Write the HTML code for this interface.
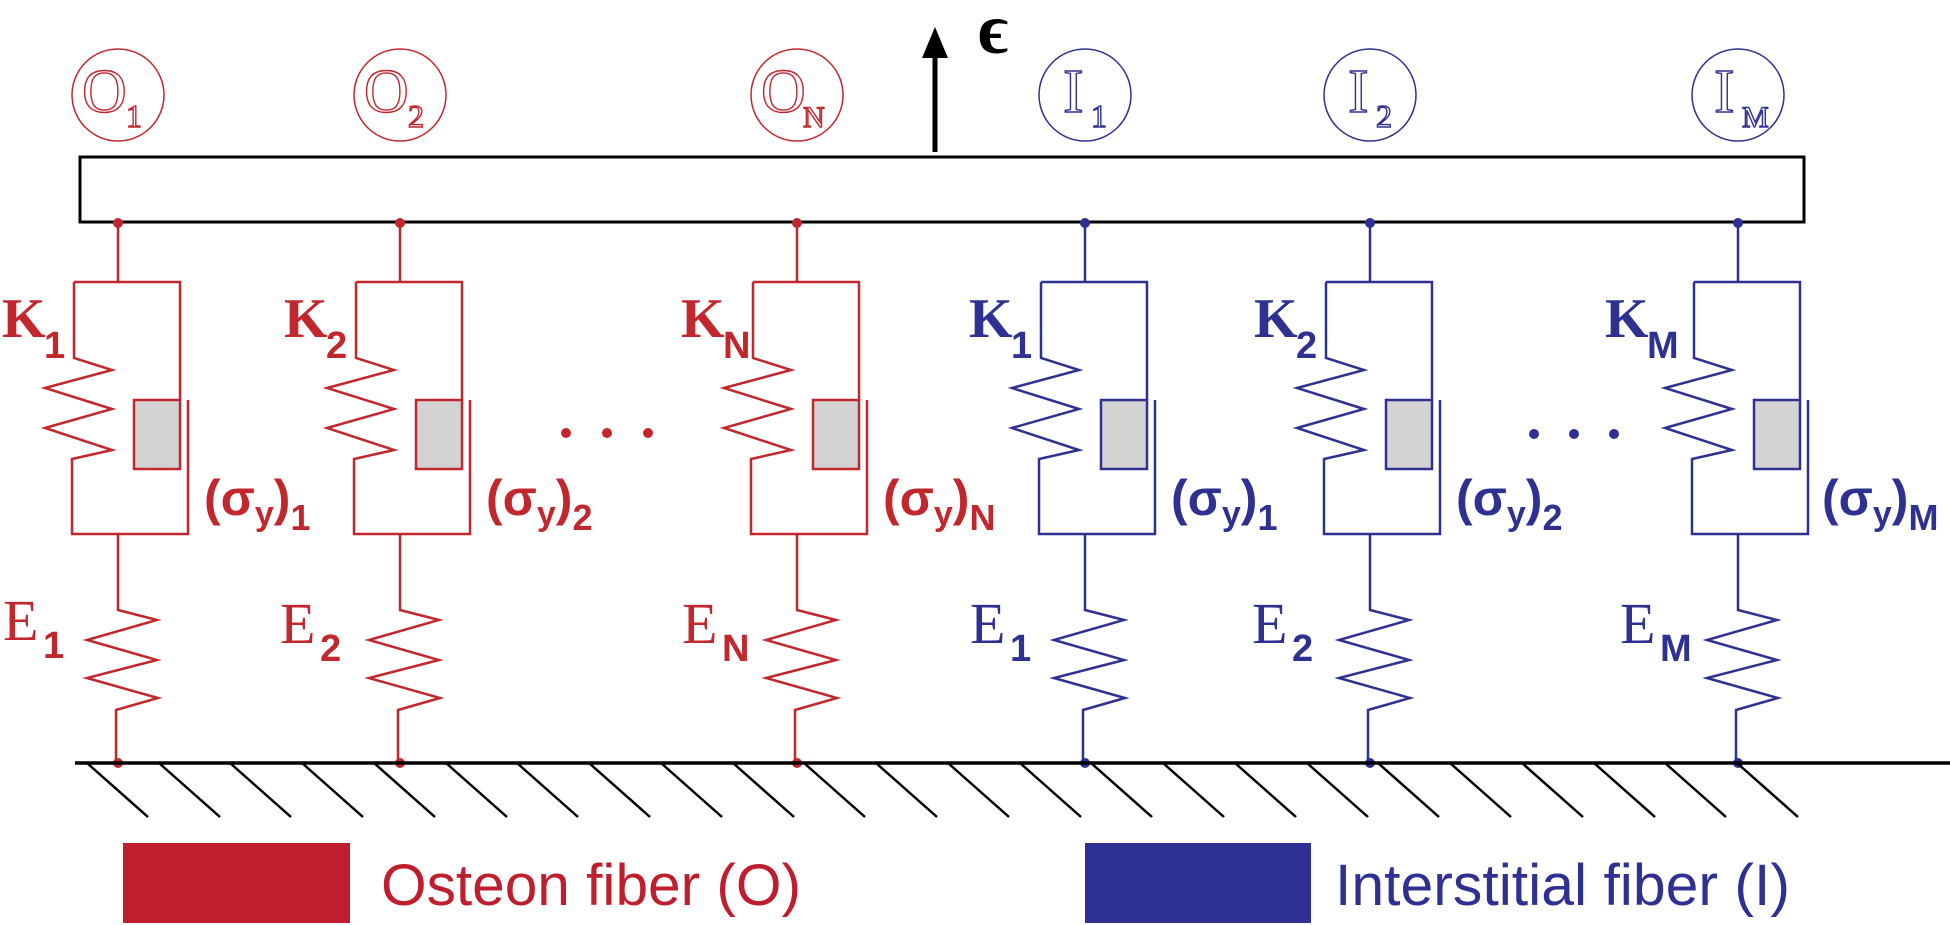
<!DOCTYPE html>
<html><head><meta charset="utf-8"><style>
html,body{margin:0;padding:0;background:#fff;}
svg{display:block;}
.blk{fill:#d3d3d3;}
text{font-family:"Liberation Sans",sans-serif;}
text.sf, .sf text{font-family:"Liberation Serif",serif;}
</style></head><body>
<svg width="1950" height="925" viewBox="0 0 1950 925" xmlns="http://www.w3.org/2000/svg">
<defs>
<g id="unit">
  <line x1="0" y1="223" x2="0" y2="282"/>
  <path d="M-44,282 H62 V400 M-44,282 V358 L-6,370 L-73,388 L-6,409 L-73,428 L-6,450 L-46,459 V534 H70 V400"/>
  <rect x="16" y="400" width="46" height="69" class="blk"/>
  <path d="M0,534 V610 L39,620 L-31,640 L39,660 L-31,678 L40,698 L-2,710 V763"/>
  <circle cx="0" cy="95" r="46" stroke-width="1.5"/>
</g>
</defs>
<!-- bar -->
<rect x="80" y="157" width="1724" height="65" fill="#fff" stroke="#000" stroke-width="3"/>
<!-- arrow -->
<line x1="935" y1="152" x2="935" y2="55" stroke="#000" stroke-width="5"/>
<polygon points="935,27 922,58 948,58" fill="#000"/>
<text class="sf" x="978" y="53" font-size="72" font-weight="bold">ϵ</text>

<!-- units -->
<g stroke="#c1272d" fill="none" stroke-width="2.5">
<use href="#unit" transform="translate(118,0)"/>
<use href="#unit" transform="translate(400,0)"/>
<use href="#unit" transform="translate(797,0)"/>
</g>
<g stroke="#2e3192" fill="none" stroke-width="2.5">
<use href="#unit" transform="translate(1085,0)"/>
<use href="#unit" transform="translate(1370,0)"/>
<use href="#unit" transform="translate(1738,0)"/>
</g>
<g fill="#c1272d">
<circle cx="118" cy="223" r="5"/><circle cx="400" cy="223" r="5"/><circle cx="797" cy="223" r="5"/>
<circle cx="118" cy="763" r="5"/><circle cx="400" cy="763" r="5"/><circle cx="797" cy="763" r="5"/>
<circle cx="566" cy="433" r="5"/><circle cx="607" cy="433" r="5"/><circle cx="648" cy="433" r="5"/>
</g>
<g fill="#2e3192">
<circle cx="1085" cy="223" r="5"/><circle cx="1370" cy="223" r="5"/><circle cx="1738" cy="223" r="5"/>
<circle cx="1085" cy="763" r="5"/><circle cx="1370" cy="763" r="5"/><circle cx="1738" cy="763" r="5"/>
<circle cx="1534" cy="434" r="5"/><circle cx="1574" cy="434" r="5"/><circle cx="1614" cy="434" r="5"/>
</g>

<!-- circle labels -->
<g class="sf" fill="#fff" stroke-width="1.4">
<g stroke="#c1272d">
<text x="82" y="112" font-size="62">O</text><text x="126" y="127" font-size="32">1</text>
<text x="364" y="112" font-size="62">O</text><text x="408" y="127" font-size="32">2</text>
<text x="761" y="112" font-size="62">O</text><text x="803" y="127" font-size="30">N</text>
</g>
<g stroke="#2e3192">
<text x="1063" y="112" font-size="62">I</text><text x="1091" y="127" font-size="32">1</text>
<text x="1348" y="112" font-size="62">I</text><text x="1376" y="127" font-size="32">2</text>
<text x="1714" y="112" font-size="62">I</text><text x="1742" y="127" font-size="30">M</text>
</g>
</g>

<!-- K, sigma, E labels -->
<g fill="#c1272d">
<text class="sf" x="2" y="337" font-size="56" font-weight="bold">K</text><text x="44" y="358" font-size="38" font-weight="bold">1</text>
<text class="sf" x="284" y="337" font-size="56" font-weight="bold">K</text><text x="326" y="358" font-size="38" font-weight="bold">2</text>
<text class="sf" x="681" y="337" font-size="56" font-weight="bold">K</text><text x="723" y="358" font-size="38" font-weight="bold">N</text>
<text x="204" y="515" font-size="50" font-weight="bold">(σ<tspan font-size="34" dy="10">y</tspan><tspan font-size="50" dy="-10">)</tspan><tspan font-size="36" dy="15">1</tspan></text>
<text x="486" y="515" font-size="50" font-weight="bold">(σ<tspan font-size="34" dy="10">y</tspan><tspan font-size="50" dy="-10">)</tspan><tspan font-size="36" dy="15">2</tspan></text>
<text x="883" y="515" font-size="50" font-weight="bold">(σ<tspan font-size="34" dy="10">y</tspan><tspan font-size="50" dy="-10">)</tspan><tspan font-size="36" dy="15">N</tspan></text>
<text class="sf" x="3" y="640" font-size="58">E</text><text x="43" y="658" font-size="38" font-weight="bold">1</text>
<text class="sf" x="280" y="643" font-size="58">E</text><text x="320" y="661" font-size="38" font-weight="bold">2</text>
<text class="sf" x="682" y="643" font-size="58">E</text><text x="722" y="661" font-size="38" font-weight="bold">N</text>
</g>
<g fill="#2e3192">
<text class="sf" x="969" y="337" font-size="56" font-weight="bold">K</text><text x="1011" y="358" font-size="38" font-weight="bold">1</text>
<text class="sf" x="1254" y="337" font-size="56" font-weight="bold">K</text><text x="1296" y="358" font-size="38" font-weight="bold">2</text>
<text class="sf" x="1605" y="337" font-size="56" font-weight="bold">K</text><text x="1647" y="358" font-size="38" font-weight="bold">M</text>
<text x="1171" y="515" font-size="50" font-weight="bold">(σ<tspan font-size="34" dy="10">y</tspan><tspan font-size="50" dy="-10">)</tspan><tspan font-size="36" dy="15">1</tspan></text>
<text x="1456" y="515" font-size="50" font-weight="bold">(σ<tspan font-size="34" dy="10">y</tspan><tspan font-size="50" dy="-10">)</tspan><tspan font-size="36" dy="15">2</tspan></text>
<text x="1822" y="515" font-size="50" font-weight="bold">(σ<tspan font-size="34" dy="10">y</tspan><tspan font-size="50" dy="-10">)</tspan><tspan font-size="36" dy="15">M</tspan></text>
<text class="sf" x="970" y="643" font-size="58">E</text><text x="1010" y="661" font-size="38" font-weight="bold">1</text>
<text class="sf" x="1252" y="643" font-size="58">E</text><text x="1292" y="661" font-size="38" font-weight="bold">2</text>
<text class="sf" x="1620" y="643" font-size="58">E</text><text x="1660" y="661" font-size="38" font-weight="bold">M</text>
</g>

<!-- ground -->
<line x1="75" y1="763" x2="1950" y2="763" stroke="#000" stroke-width="3.5"/>
<g stroke="#000" stroke-width="2.5">
<path d="M87,763 L148,817 M159,763 L220,817 M230,763 L291,817 M302,763 L363,817 M374,763 L435,817 M446,763 L507,817 M517,763 L578,817 M589,763 L650,817 M661,763 L722,817 M733,763 L794,817 M804,763 L865,817 M876,763 L937,817 M948,763 L1009,817 M1020,763 L1081,817 M1091,763 L1152,817 M1163,763 L1224,817 M1235,763 L1296,817 M1307,763 L1368,817 M1378,763 L1439,817 M1450,763 L1511,817 M1522,763 L1583,817 M1594,763 L1655,817 M1665,763 L1726,817 M1737,763 L1798,817"/>
</g>

<!-- legend -->
<rect x="123" y="843" width="227" height="80" fill="#be1e2d"/>
<text x="381" y="905" font-size="58" fill="#be1e2d" textLength="420" lengthAdjust="spacingAndGlyphs">Osteon fiber (O)</text>
<rect x="1085" y="843" width="226" height="80" fill="#2e3192"/>
<text x="1335" y="905" font-size="58" fill="#2e3192" textLength="455" lengthAdjust="spacingAndGlyphs">Interstitial fiber (I)</text>
</svg>
</body></html>
